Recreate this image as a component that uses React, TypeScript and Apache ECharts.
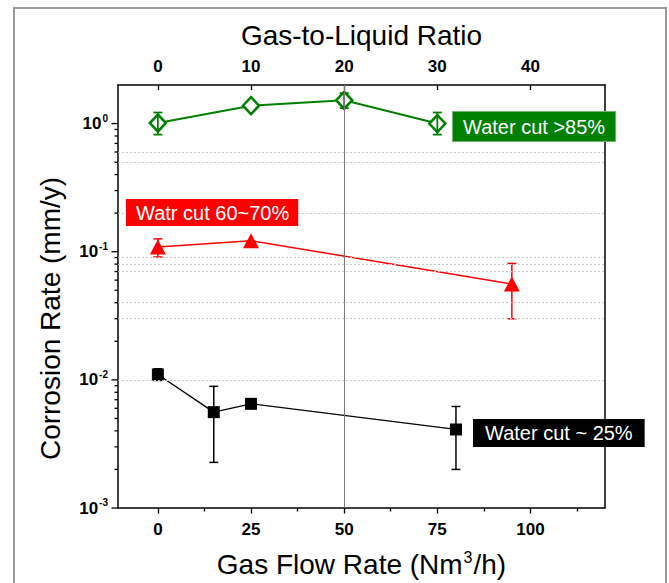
import React, { useEffect, useRef } from "react";
import * as echarts from "echarts";

// Axis ticks / labels
const flowLabelValues = [0, 25, 50, 75, 100];
const flowMinorTickValues = [12.5, 37.5, 62.5, 87.5, 112.5];
const glrLabelValues = [0, 10, 20, 30, 40];
const yMajorTicks = [0.001, 0.01, 0.1, 1];
const yMinorTicks = [
  0.002, 0.003, 0.004, 0.005, 0.006, 0.007, 0.008, 0.009,
  0.02, 0.03, 0.04, 0.05, 0.06, 0.07, 0.08, 0.09,
  0.2, 0.3, 0.4, 0.5, 0.6, 0.7, 0.8, 0.9,
];
const dottedGridValues = [0.6, 0.5, 0.2, 0.09, 0.08, 0.07, 0.04, 0.03, 0.007, 0.006, 0.005];
const verticalMarkX = 50;

// Series: Water cut >85%
const greenName = "Water cut >85%";
const greenX = [0, 25, 50, 75];
const greenY = [1.01, 1.38, 1.52, 1.0];
const greenLow = [0.82, null, 1.32, 0.82];
const greenHigh = [1.22, null, 1.73, 1.22];

// Series: Watr cut 60~70%
const redName = "Watr cut 60~70%";
const redX = [0, 25, 95];
const redY = [0.109, 0.122, 0.056];
const redLow = [0.091, null, 0.03];
const redHigh = [0.126, null, 0.081];

// Series: Water cut ~ 25%
const blackName = "Water cut ~ 25%";
const blackX = [0, 15, 25, 80];
const blackY = [0.011, 0.0056, 0.0065, 0.0041];
const blackLow = [0.0099, 0.00227, null, 0.002];
const blackHigh = [0.0122, 0.0089, null, 0.0062];

const X_MIN = -10.7;
const X_MAX = 120;
const GLR_MIN = X_MIN * 0.4;
const GLR_MAX = X_MAX * 0.4;
const Y_MIN = 0.001;
const Y_MAX = 2;

const FONT = "'Liberation Sans', Arial, Helvetica, sans-serif";

function errorSeries(xs: number[], lows: (number | null)[], highs: (number | null)[], color: string, width: number) {
  const data: number[][] = [];
  xs.forEach((x, i) => {
    const lo = lows[i];
    const hi = highs[i];
    if (lo != null && hi != null) data.push([x, lo, hi]);
  });
  return {
    type: "custom",
    xAxisIndex: 0,
    yAxisIndex: 0,
    z: 4,
    silent: true,
    dimensions: ["x", "lo", "hi"],
    encode: { x: 0, y: [1, 2] },
    data,
    renderItem: (_params: any, api: any) => {
      const x = api.value(0);
      const lo = api.coord([x, api.value(1)]);
      const hi = api.coord([x, api.value(2)]);
      const hw = 4.5;
      const style = { stroke: color, lineWidth: width };
      return {
        type: "group",
        children: [
          { type: "line", shape: { x1: lo[0], y1: lo[1], x2: hi[0], y2: hi[1] }, style },
          { type: "line", shape: { x1: lo[0] - hw, y1: lo[1], x2: lo[0] + hw, y2: lo[1] }, style },
          { type: "line", shape: { x1: hi[0] - hw, y1: hi[1], x2: hi[0] + hw, y2: hi[1] }, style },
        ],
      };
    },
  };
}

function yTickSeries(values: number[], len: number) {
  return {
    type: "custom",
    xAxisIndex: 0,
    yAxisIndex: 0,
    silent: true,
    clip: false,
    z: 5,
    dimensions: ["x", "y"],
    encode: { x: 0, y: 1 },
    data: values.map((v) => [X_MIN, v]),
    renderItem: (_params: any, api: any) => {
      const p = api.coord([api.value(0), api.value(1)]);
      return {
        type: "line",
        shape: { x1: p[0] - len, y1: p[1], x2: p[0], y2: p[1] },
        style: { stroke: "#000", lineWidth: 1.3 },
      };
    },
  };
}

export default function App() {
  const ref = useRef<HTMLDivElement>(null);

  useEffect(() => {
    document.body.style.margin = "0";
    if (!ref.current) return;
    const chart = echarts.init(ref.current, undefined, { renderer: "svg" });

    const option: any = {
      animation: false,
      backgroundColor: "#ffffff",
      textStyle: { fontFamily: FONT },
      grid: { left: 118, right: 64, top: 85, bottom: 72, show: false },
      xAxis: [
        {
          type: "value",
          position: "bottom",
          min: X_MIN,
          max: X_MAX,
          name: "Gas Flow Rate (Nm{s|3}/h)",
          nameLocation: "middle",
          nameGap: 41,
          nameTextStyle: {
            fontSize: 28,
            color: "#000",
            fontFamily: FONT,
            rich: { s: { fontSize: 16, fontFamily: FONT, color: "#000", padding: [0, 1, 14, 1] } },
          },
          axisLine: { show: true, onZero: false, lineStyle: { color: "#000", width: 1.5 } },
          axisTick: { show: true, inside: false, length: 5.5, customValues: flowLabelValues, lineStyle: { color: "#000", width: 1.3 } },
          axisLabel: {
            customValues: flowLabelValues,
            margin: 13,
            fontSize: 17,
            fontWeight: "bold",
            color: "#000",
            fontFamily: FONT,
          },
          splitLine: { show: false },
        },
        {
          type: "value",
          position: "top",
          min: GLR_MIN,
          max: GLR_MAX,
          name: "Gas-to-Liquid Ratio",
          nameLocation: "middle",
          nameGap: 36,
          nameTextStyle: { fontSize: 28, color: "#000", fontFamily: FONT },
          axisLine: { show: true, onZero: false, lineStyle: { color: "#000", width: 1.5 } },
          axisTick: { show: true, inside: true, length: 5, customValues: glrLabelValues, lineStyle: { color: "#000", width: 1.3 } },
          axisLabel: {
            customValues: glrLabelValues,
            margin: 10,
            fontSize: 17,
            fontWeight: "bold",
            color: "#000",
            fontFamily: FONT,
          },
          splitLine: { show: false },
        },
        {
          type: "value",
          position: "bottom",
          offset: 0,
          min: X_MIN,
          max: X_MAX,
          axisLine: { show: false, onZero: false },
          axisTick: { show: true, inside: false, length: 3.5, customValues: flowMinorTickValues, lineStyle: { color: "#000", width: 1.3 } },
          axisLabel: { show: false },
          splitLine: { show: false },
        },
      ],
      yAxis: [
        {
          type: "log",
          logBase: 10,
          min: Y_MIN,
          max: Y_MAX,
          position: "left",
          name: "Corrosion Rate (mm/y)",
          nameLocation: "middle",
          nameGap: 54,
          nameTextStyle: { fontSize: 28, color: "#000", fontFamily: FONT, padding: [0, 44, 0, 0] },
          axisLine: { show: true, onZero: false, lineStyle: { color: "#000", width: 1.5 } },
          axisTick: { show: false },
          axisLabel: {
            margin: 10,
            color: "#000",
            formatter: (v: number) => {
              const e = Math.log10(v);
              const r = Math.round(e);
              if (Math.abs(e - r) > 1e-6) return "";
              return `{b|10}{s|${r}}`;
            },
            rich: {
              b: { fontSize: 17, fontWeight: "bold", color: "#000", fontFamily: FONT },
              s: { fontSize: 10, fontWeight: "bold", color: "#000", fontFamily: FONT, padding: [0, 0, 11, 1] },
            },
          },
          splitLine: { show: false },
        },
        {
          type: "log",
          logBase: 10,
          min: Y_MIN,
          max: Y_MAX,
          position: "right",
          axisLine: { show: true, onZero: false, lineStyle: { color: "#000", width: 1.5 } },
          axisTick: { show: false },
          axisLabel: { show: false },
          splitLine: { show: false },
        },
      ],
      series: [
        yTickSeries(yMinorTicks, 3.5),
        yTickSeries(yMajorTicks, 6.5),
        {
          type: "line",
          name: "guides",
          xAxisIndex: 0,
          yAxisIndex: 0,
          data: [],
          silent: true,
          z: 1,
          markLine: {
            silent: true,
            symbol: ["none", "none"],
            label: { show: false },
            animation: false,
            data: [
              ...dottedGridValues.map((v) => ({
                yAxis: v,
                lineStyle: { color: "#c8c8c8", width: 1, type: [2, 2] },
              })),
              { xAxis: verticalMarkX, lineStyle: { color: "#7a7a7a", width: 1, type: "solid" } },
            ],
          },
        },
        {
          type: "line",
          name: greenName,
          xAxisIndex: 0,
          yAxisIndex: 0,
          data: greenX.map((x, i) => [x, greenY[i]]),
          symbol: "diamond",
          symbolSize: [16, 17],
          itemStyle: { color: "#ffffff", borderColor: "#008000", borderWidth: 2.6 },
          lineStyle: { color: "#008000", width: 2 },
          z: 3,
        },
        errorSeries(greenX, greenLow, greenHigh, "#008000", 1.8),
        {
          type: "line",
          name: redName,
          xAxisIndex: 0,
          yAxisIndex: 0,
          data: redX.map((x, i) => [x, redY[i]]),
          symbol: "triangle",
          symbolSize: [16, 15],
          itemStyle: { color: "#ff0000", borderColor: "#ff0000", borderWidth: 0 },
          lineStyle: { color: "#ff0000", width: 1.5 },
          z: 3,
        },
        errorSeries(redX, redLow, redHigh, "#ff0000", 1.5),
        {
          type: "line",
          name: blackName,
          xAxisIndex: 0,
          yAxisIndex: 0,
          data: blackX.map((x, i) => [x, blackY[i]]),
          symbol: "rect",
          symbolSize: 12,
          itemStyle: { color: "#000000" },
          lineStyle: { color: "#000000", width: 1.3 },
          z: 3,
        },
        errorSeries(blackX, blackLow, blackHigh, "#000000", 1.5),
      ],
      graphic: [
        {
          type: "rect",
          silent: true,
          z: 0,
          shape: { x: 14, y: 8, width: 652, height: 620 },
          style: { fill: "none", stroke: "#9a9a9a", lineWidth: 2 },
        },
        {
          type: "text",
          z: 100,
          x: 453,
          y: 112,
          style: {
            text: greenName,
            font: `20px ${FONT}`,
            fill: "#ffffff",
            backgroundColor: "#008000",
            borderColor: "#6fb86f",
            borderWidth: 1,
            padding: [5, 10, 4, 10],
          },
        },
        {
          type: "text",
          z: 100,
          x: 126,
          y: 199,
          style: {
            text: redName,
            font: `20px ${FONT}`,
            fill: "#ffffff",
            backgroundColor: "#ff0000",
            padding: [4, 9, 3, 10],
          },
        },
        {
          type: "text",
          z: 100,
          x: 473,
          y: 419,
          style: {
            text: blackName,
            font: `20px ${FONT}`,
            fill: "#ffffff",
            backgroundColor: "#000000",
            padding: [4, 12, 4, 12],
          },
        },
      ],
    };

    chart.setOption(option);
    return () => chart.dispose();
  }, []);

  return <div ref={ref} style={{ width: 669, height: 583 }} />;
}
